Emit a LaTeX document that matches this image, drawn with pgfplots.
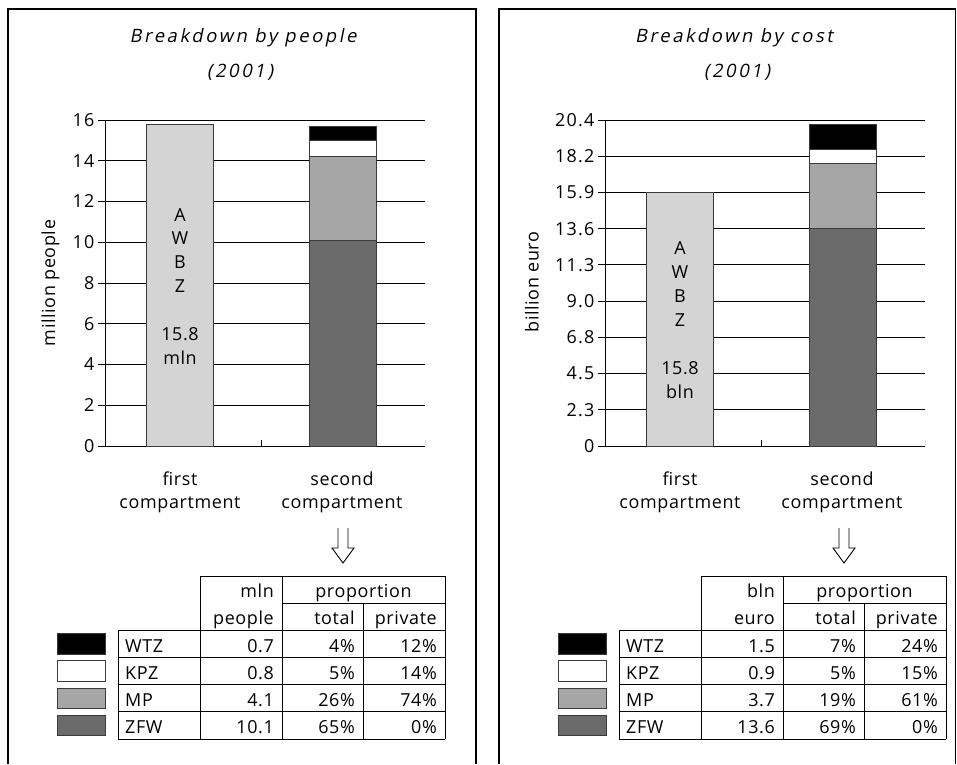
\documentclass[border=0pt]{standalone}
\usepackage{fontspec}
\setmainfont{Open Sans}
\usepackage{pgfplots}
\pgfplotsset{compat=1.18}

\newfontfamily\spaced[LetterSpace=3.5]{Open Sans}
\newfontfamily\tickspaced[LetterSpace=7]{Open Sans}
\newfontfamily\titlefont[FakeSlant=0.2, LetterSpace=14]{Open Sans}
\newcommand\lbl{\spaced\fontsize{18}{22}\selectfont}
\newcommand\tk{\tickspaced\fontsize{18}{22}\selectfont}
\newcommand\ttl{\titlefont\fontsize{18.5}{22}\selectfont}

\definecolor{awbz}{HTML}{D4D4D4}
\definecolor{mp}{HTML}{A6A6A6}
\definecolor{zfw}{HTML}{6B6B6B}
\definecolor{edge}{HTML}{3A3A3A}

\pgfplotsset{
  panel/.style={
    scale only axis, width=320bp, height=326bp, anchor=south west,
    xmin=0, xmax=2, ymin=0,
    axis lines*=left, axis line style={line width=1bp, black},
    xtick=\empty, tick align=outside, major tick length=7bp,
    tick style={black, line width=1bp},
    ymajorgrids, grid style={black, line width=0.9bp},
    yticklabel style={font=\tk},
    /pgf/number format/assume math mode=true,
  },
  stackpanel/.style={
    scale only axis, width=320bp, height=326bp, anchor=south west,
    xmin=0, xmax=2, ymin=0, hide axis,
    ybar stacked, bar width=67bp,
  },
}

\newcommand\xticks{%
  \draw[line width=1bp] (axis cs:0,0) ++(0,6.5bp) -- ++(0,-13bp);
  \draw[line width=1bp] (axis cs:0.975,0) ++(0,6.5bp) -- ++(0,-13bp);
  \draw[line width=1bp] (axis cs:2,0) ++(0,6.5bp) -- ++(0,-13bp);
}

% table under each chart; #1/#2 unit header, #3 rows
\newcommand\drawtable[3]{%
  \draw[line width=1bp] (200,576) -- (445,576);
  \draw[line width=1bp] (282,603) -- (445,603);
  \foreach \k in {0,...,4}
    \draw[line width=1bp] (118,{630+27.25*\k}) -- (445,{630+27.25*\k});
  \draw[line width=1bp] (118,630) -- (118,739) (200,576) -- (200,739)
    (282,576) -- (282,739) (363,603) -- (363,739) (445,576) -- (445,739);
  \node[anchor=base east] at (274,597) {#1};
  \node[anchor=base] at (363.5,597) {proportion};
  \node[anchor=base east] at (274,624) {#2};
  \node[anchor=base east] at (355,624) {total};
  \node[anchor=base east] at (437,624) {private};
  \foreach \nm/\va/\vb/\vc/\col [count=\i from 0] in {#3} {
    \filldraw[fill=\col, draw=edge, line width=0.8bp]
      (57,{633.5+27.25*\i}) rectangle (105,{654+27.25*\i});
    \node[anchor=base west] at (125,{652+27.25*\i}) {\nm};
    \node[anchor=base east] at (274,{652+27.25*\i}) {\va};
    \node[anchor=base east] at (355,{652+27.25*\i}) {\vb};
    \node[anchor=base east] at (437,{652+27.25*\i}) {\vc};
  }
  \draw[line width=0.9bp] (338,528) -- (338,548) -- (332,548) -- (343,563)
    -- (354,548) -- (348,548) -- (348,528);
}

\begin{document}
\begin{tikzpicture}
\begin{scope}[x=1bp, y=-1bp]
  \useasboundingbox (0,0) rectangle (957,764);
\end{scope}

% ---- people ----
\begin{axis}[panel, at={(105bp,-446bp)}, ymax=16, ytick={0,2,...,16}]
  \addplot[ybar, bar width=67bp, bar shift=0pt, fill=awbz, draw=edge, line width=0.9bp]
    coordinates {(0.47,15.8)};
  \xticks
\end{axis}
\begin{axis}[stackpanel, at={(105bp,-446bp)}, ymax=16]
  \addplot[fill=zfw, draw=edge, line width=0.9bp] coordinates {(1.49,10.1)};
  \addplot[fill=mp, draw=edge, line width=0.9bp] coordinates {(1.49,4.1)};
  \addplot[fill=white, draw=edge, line width=0.9bp] coordinates {(1.49,0.8)};
  \addplot[fill=black, draw=edge, line width=0.9bp] coordinates {(1.49,0.7)};
\end{axis}

% ---- cost ----
\begin{axis}[panel, at={(605bp,-446bp)}, ymax=20.4,
    ytick={0,2.2667,4.5333,6.8,9.0667,11.3333,13.6,15.8667,18.1333,20.4},
    yticklabels={0,2.3,4.5,6.8,9.0,11.3,13.6,15.9,18.2,20.4}]
  \addplot[ybar, bar width=67bp, bar shift=0pt, fill=awbz, draw=edge, line width=0.9bp]
    coordinates {(0.47,15.87)};
  \xticks
\end{axis}
\begin{axis}[stackpanel, at={(605bp,-446bp)}, ymax=20.4]
  \addplot[fill=zfw, draw=edge, line width=0.9bp] coordinates {(1.49,13.6)};
  \addplot[fill=mp, draw=edge, line width=0.9bp] coordinates {(1.49,4.07)};
  \addplot[fill=white, draw=edge, line width=0.9bp] coordinates {(1.49,0.9)};
  \addplot[fill=black, draw=edge, line width=0.9bp] coordinates {(1.49,1.58)};
\end{axis}

\begin{scope}[x=1bp, y=-1bp, every node/.style={inner sep=0pt, font=\lbl}]
  % frames
  \draw[line width=1.2bp] (8,763.5) -- (8,9) -- (476,9) -- (476,763.5);
  \draw[line width=1.2bp] (499,763.5) -- (499,9) -- (955.5,9) -- (955.5,763.5);
  % titles
  \node[anchor=base, font=\ttl] at (243,43) {Breakdown by people};
  \node[anchor=base, font=\ttl] at (240,78) {(2001)};
  \node[anchor=base, font=\ttl] at (734,43) {Breakdown by cost};
  \node[anchor=base, font=\ttl] at (737,78) {(2001)};
  % axis labels
  \node[anchor=base, rotate=90] at (55,283) {million people};
  \node[anchor=base, rotate=90] at (538.5,282) {billion euro};
  % category labels
  \node[anchor=base] at (180,485) {first};
  \node[anchor=base] at (180,508) {compartment};
  \node[anchor=base] at (342,485) {second};
  \node[anchor=base] at (342,508) {compartment};
  \node[anchor=base] at (680,485) {first};
  \node[anchor=base] at (680,508) {compartment};
  \node[anchor=base] at (842,485) {second};
  \node[anchor=base] at (842,508) {compartment};
  % text inside first bars
  \foreach \s/\yy in {A/221,W/244.5,B/268,Z/292,15.8/340,mln/364}
    \node[anchor=base] at (180,\yy) {\s};
  \foreach \s/\yy in {A/254,W/278,B/302,Z/326,15.8/374,bln/398}
    \node[anchor=base] at (680,\yy) {\s};
  % tables
  \drawtable{mln}{people}{WTZ/0.7/4\%/12\%/black, KPZ/0.8/5\%/14\%/white,
    MP/4.1/26\%/74\%/mp, ZFW/10.1/65\%/0\%/zfw}
  \begin{scope}[xshift=501bp]
    \drawtable{bln}{euro}{WTZ/1.5/7\%/24\%/black, KPZ/0.9/5\%/15\%/white,
      MP/3.7/19\%/61\%/mp, ZFW/13.6/69\%/0\%/zfw}
  \end{scope}
\end{scope}
\end{tikzpicture}
\end{document}
